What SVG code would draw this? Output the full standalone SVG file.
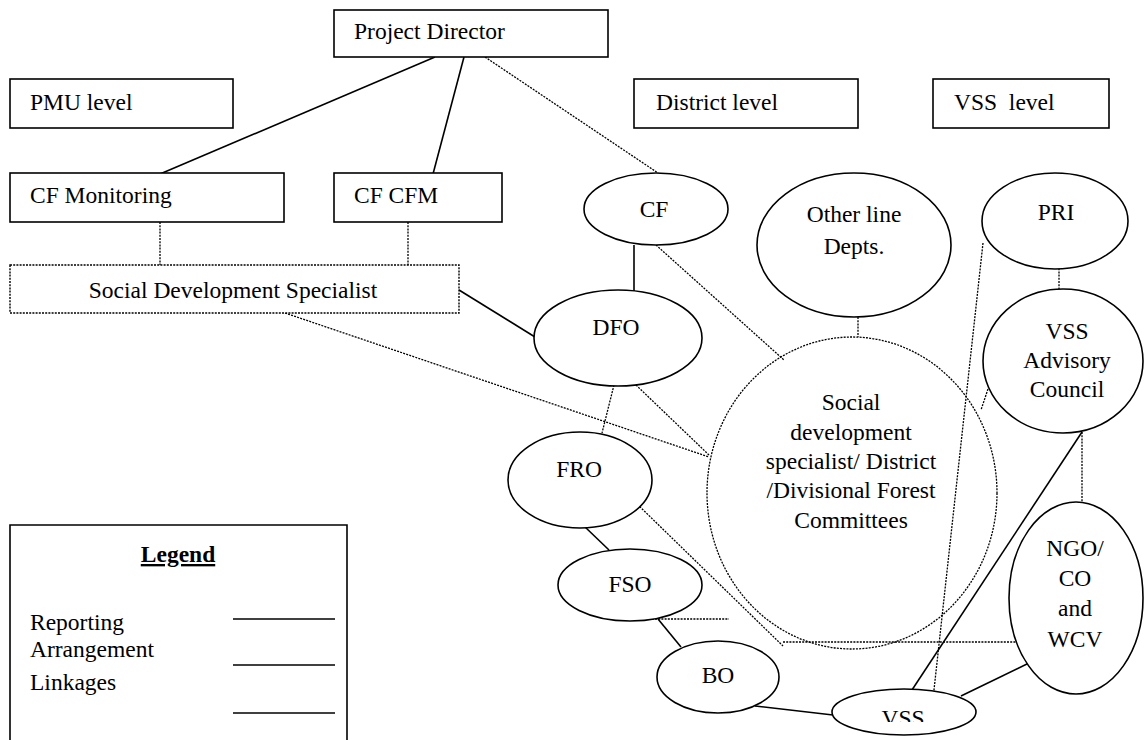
<svg xmlns="http://www.w3.org/2000/svg" width="1145" height="740" viewBox="0 0 1145 740">
<defs>
<style>
text{font-family:"Liberation Serif","DejaVu Serif",serif;font-size:23.5px;fill:#000}
.c{text-anchor:middle}
.box{fill:#fff;stroke:#000;stroke-width:1.6}
.dbox{fill:#fff;stroke:#000;stroke-width:1.4;stroke-dasharray:2,1.2}
.ell{fill:#fff;stroke:#000;stroke-width:1.6}
.dell{fill:none;stroke:#000;stroke-width:1.3;stroke-dasharray:2,1.2}
.s{stroke:#000;stroke-width:1.6;fill:none}
.d{stroke:#000;stroke-width:1.3;stroke-dasharray:2,1.2;fill:none}
</style>
<clipPath id="vssclip"><rect x="850" y="690" width="110" height="32"/></clipPath>
</defs>
<rect width="1145" height="740" fill="#fff"/>

<g id="connectors">
<line class="s" x1="435" y1="57" x2="160" y2="174"/>
<line class="s" x1="464" y1="57" x2="433" y2="174"/>
<line class="d" x1="485" y1="57" x2="658" y2="173"/>
<line class="d" x1="160" y1="222" x2="160" y2="265"/>
<line class="d" x1="408" y1="222" x2="408" y2="265"/>
<line class="s" x1="634" y1="245" x2="634" y2="291"/>
<line class="s" x1="459" y1="290" x2="535" y2="337"/>
<line class="d" x1="285" y1="313" x2="709" y2="457"/>
<line class="d" x1="656" y1="245" x2="784" y2="360"/>
<line class="d" x1="858" y1="317" x2="858" y2="337"/>
<line class="d" x1="636" y1="385" x2="709" y2="455"/>
<line class="d" x1="614" y1="385" x2="602" y2="433"/>
<line class="s" x1="584" y1="526" x2="609" y2="550"/>
<line class="d" x1="635" y1="502" x2="783" y2="646"/>
<line class="s" x1="658" y1="619" x2="681" y2="647"/>
<line class="d" x1="607" y1="619" x2="729" y2="619"/>
<line class="d" x1="783" y1="642" x2="1017" y2="642"/>
<line class="s" x1="755" y1="706" x2="833" y2="715"/>
<line class="s" x1="961" y1="696" x2="1031" y2="662"/>
<line class="s" x1="1082" y1="432" x2="908" y2="696"/>
<line class="d" x1="983" y1="243" x2="933" y2="699"/>
<line class="d" x1="988" y1="389" x2="981" y2="410"/>
<line class="d" x1="1059" y1="265" x2="1059" y2="290"/>
<line class="d" x1="1082" y1="432" x2="1082" y2="503"/>
</g>

<g id="project-director"><rect class="box" x="334" y="10" width="274" height="47"/><text x="354" y="39">Project Director</text></g>
<g id="pmu-level"><rect class="box" x="10" y="79" width="223" height="49"/><text x="30" y="110">PMU level</text></g>
<g id="district-level"><rect class="box" x="634" y="79" width="224" height="49"/><text x="656" y="110">District level</text></g>
<g id="vss-level"><rect class="box" x="933" y="79" width="176" height="49"/><text x="954" y="110">VSS&#160; level</text></g>
<g id="cf-monitoring"><rect class="box" x="10" y="173" width="274" height="49"/><text x="30" y="203">CF Monitoring</text></g>
<g id="cf-cfm"><rect class="box" x="334" y="173" width="168" height="49"/><text x="354" y="203">CF CFM</text></g>
<g id="sds"><rect class="dbox" x="10" y="265" width="449" height="48"/><text class="c" x="233" y="298">Social Development Specialist</text></g>

<g id="cf"><ellipse class="ell" cx="656" cy="209" rx="72" ry="36"/><text class="c" x="654" y="217">CF</text></g>
<g id="other-line"><ellipse class="ell" cx="854" cy="245" rx="97" ry="72"/><text class="c" x="854" y="222">Other line</text><text class="c" x="854" y="254">Depts.</text></g>
<g id="pri"><ellipse class="ell" cx="1055" cy="221" rx="73" ry="48"/><text class="c" x="1056" y="220">PRI</text></g>
<g id="vss-advisory"><ellipse class="ell" cx="1063" cy="361" rx="80" ry="72"/><text class="c" x="1067" y="339">VSS</text><text class="c" x="1067" y="368">Advisory</text><text class="c" x="1067" y="397">Council</text></g>
<g id="dfo"><ellipse class="ell" cx="618" cy="338" rx="84" ry="48"/><text class="c" x="616" y="335">DFO</text></g>
<g id="committees"><ellipse class="dell" cx="852" cy="493" rx="145" ry="156"/>
<text class="c" x="851" y="410">Social</text><text class="c" x="851" y="440">development</text><text class="c" x="851" y="469">specialist/ District</text><text class="c" x="851" y="498">/Divisional Forest</text><text class="c" x="851" y="528">Committees</text></g>
<g id="fro"><ellipse class="ell" cx="580" cy="480" rx="72" ry="48"/><text class="c" x="579" y="477">FRO</text></g>
<g id="fso"><ellipse class="ell" cx="630" cy="585" rx="72" ry="36"/><text class="c" x="630" y="592">FSO</text></g>
<g id="bo"><ellipse class="ell" cx="718" cy="677" rx="61" ry="36"/><text class="c" x="718" y="683">BO</text></g>
<g id="vss"><ellipse class="ell" cx="904" cy="712" rx="72" ry="23"/><text class="c" x="903" y="726" clip-path="url(#vssclip)">VSS</text></g>
<g id="ngo"><ellipse class="ell" cx="1076" cy="598" rx="67" ry="96"/><text class="c" x="1075" y="556">NGO/</text><text class="c" x="1075" y="586">CO</text><text class="c" x="1075" y="616">and</text><text class="c" x="1075" y="647">WCV</text></g>

<g id="legend">
<path class="s" d="M10,741 V525 H347 V741"/>
<text class="c" x="178" y="562" font-weight="bold" text-decoration="underline">Legend</text>
<text x="30" y="630">Reporting</text><text x="30" y="657">Arrangement</text><text x="30" y="690">Linkages</text>
<line class="s" x1="233" y1="619" x2="335" y2="619"/>
<line class="s" x1="233" y1="665" x2="335" y2="665"/>
<line class="s" x1="233" y1="713" x2="335" y2="713"/>
</g>
</svg>
